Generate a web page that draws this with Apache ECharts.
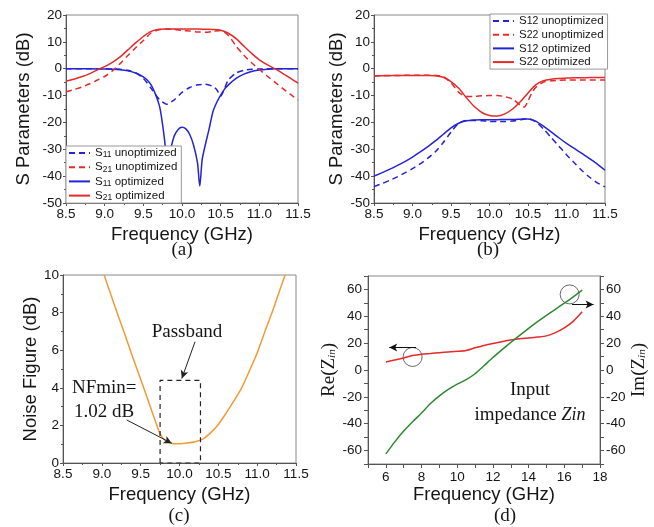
<!DOCTYPE html>
<html>
<head>
<meta charset="utf-8">
<script src="https://cdn.jsdelivr.net/npm/echarts@6/dist/echarts.min.js"></script>
<style>
  html, body { margin: 0; padding: 0; background: #fff; }
  #chart { width: 654px; height: 527px; }
</style>
</head>
<body>
<div id="chart"></div>
<script>
// ---- data ----
var FREQ_AB = [8.5, 8.6, 8.7, 8.8, 8.9, 9.0, 9.1, 9.2, 9.3, 9.4, 9.5, 9.6, 9.7, 9.8, 9.9, 10.0,
  10.1, 10.2, 10.3, 10.4, 10.5, 10.6, 10.7, 10.8, 10.9, 11.0, 11.1, 11.2, 11.3, 11.4, 11.5];

// (a)
var S21_OPT = [-4.6, -3.9, -3.0, -1.9, -0.5, 0.8, 2.4, 4.4, 7.0, 9.6, 12.0, 13.9, 14.7, 14.8, 14.8, 14.8,
  14.8, 14.8, 14.7, 14.6, 14.3, 13.2, 11.2, 8.4, 5.7, 3.3, 1.5, 0.0, -1.7, -3.5, -5.4];
var S21_UNOPT = [-8.6, -7.8, -6.9, -5.7, -4.3, -2.9, -0.8, 1.9, 4.9, 7.8, 10.5, 13.3, 14.5, 14.8, 14.6, 14.3,
  14.0, 13.7, 13.6, 13.9, 14.2, 12.4, 8.4, 5.0, 2.2, -0.3, -2.7, -5.0, -7.3, -9.5, -11.7];
var S11U_FREQ = [8.5, 8.8, 9.0, 9.1, 9.2, 9.3, 9.4, 9.5, 9.6, 9.7, 9.8, 9.9, 10.0, 10.1, 10.2, 10.3, 10.4,
  10.45, 10.5, 10.55, 10.6, 10.7, 10.8, 10.9, 11.0, 11.2, 11.5];
var S11_UNOPT = [0, 0, 0, -0.1, -0.2, -0.6, -1.5, -3.6, -7.3, -11.2, -13.2, -11.6, -8.8, -7.0, -6.0, -5.8, -6.6,
  -7.8, -10.2, -7.3, -4.2, -1.6, -0.6, -0.2, -0.1, 0, 0];
var S11O_FREQ = [8.5, 8.8, 9.0, 9.1, 9.2, 9.3, 9.4, 9.5, 9.55, 9.6, 9.65, 9.7, 9.72, 9.75, 9.78, 9.81, 9.84,
  9.87, 9.9, 9.95, 10.0, 10.05, 10.1, 10.15, 10.2, 10.23, 10.26, 10.3, 10.35, 10.4, 10.45, 10.5, 10.55,
  10.6, 10.7, 10.8, 10.9, 11.0, 11.1, 11.2, 11.5];
var S11_OPT = [0, 0, -0.1, -0.2, -0.4, -0.8, -1.6, -3.0, -4.2, -6.0, -9.0, -13.0, -15.4, -21, -28, -40, -32,
  -28, -25, -22.6, -21.8, -22.4, -24.5, -28.5, -35, -43.7, -34, -28.5, -22.5, -16, -12.5, -9.8, -7.6,
  -6.0, -3.6, -2.0, -1.0, -0.5, -0.2, 0, 0];

// (b)
var S12_OPT = [-40.0, -38.8, -37.5, -36.1, -34.6, -32.9, -31.0, -29.0, -26.8, -24.4, -22.0, -20.3, -19.4, -19.1,
  -19.0, -19.0, -19.0, -18.9, -18.9, -18.8, -18.7, -19.5, -21.4, -23.5, -25.7, -27.8, -29.7, -31.5, -33.5,
  -35.5, -37.8];
var S12_UNOPT = [-43.9, -42.8, -41.6, -40.3, -38.8, -37.2, -35.4, -33.3, -30.8, -27.5, -23.6, -20.3, -19.3, -19.3,
  -19.4, -19.6, -19.7, -19.7, -19.5, -19.0, -18.6, -19.8, -22.4, -25.6, -28.8, -32.0, -35.0, -37.9, -40.4,
  -42.5, -44.0];
var S22_OPT = [-2.7, -2.6, -2.6, -2.5, -2.5, -2.5, -2.5, -2.5, -2.6, -3.2, -4.8, -7.3, -10.8, -14.0, -16.3, -17.4,
  -17.6, -16.8, -15.0, -12.3, -9.0, -6.0, -4.5, -3.9, -3.6, -3.5, -3.4, -3.4, -3.3, -3.3, -3.3];
var S22U_FREQ = [8.5, 8.8, 9.0, 9.2, 9.3, 9.4, 9.5, 9.6, 9.7, 9.8, 9.9, 10.0, 10.1, 10.2, 10.3, 10.4, 10.45,
  10.5, 10.55, 10.6, 10.7, 10.8, 10.9, 11.0, 11.2, 11.5];
var S22_UNOPT = [-2.6, -2.5, -2.4, -2.4, -2.5, -3.0, -5.2, -8.8, -10.3, -10.3, -10.1, -10.0, -10.0, -10.4, -11.3,
  -13.6, -14.3, -12.0, -9.0, -7.0, -5.0, -4.5, -4.3, -4.2, -4.2, -4.2];

// (c)
var NF_FREQ = [9.03, 9.1, 9.2, 9.3, 9.4, 9.5, 9.6, 9.7, 9.75, 9.8, 9.85, 9.9, 9.95, 10.0, 10.1, 10.2, 10.3,
  10.4, 10.5, 10.6, 10.7, 10.8, 10.9, 11.0, 11.1, 11.2, 11.3, 11.36];
var NF = [10.0, 9.15, 7.95, 6.8, 5.6, 4.45, 3.28, 2.1, 1.55, 1.25, 1.11, 1.05, 1.02, 1.02, 1.06, 1.13, 1.27,
  1.6, 2.05, 2.65, 3.3, 4.0, 4.9, 5.85, 7.0, 8.1, 9.3, 10.0];
var BOX_FREQ = [9.75, 9.75, 10.27, 10.27, 9.75];
var BOX_NF = [0, 4.4, 4.4, 0, 0];

// (d)
var Z_FREQ = [6, 6.5, 7, 7.5, 8, 8.5, 9, 9.5, 10, 10.5, 11, 11.5, 12, 12.5, 13, 13.5, 14, 14.5, 15, 15.5,
  16, 16.5, 17];
var RE_Z = [6.0, 7.4, 9.0, 10.8, 11.8, 12.3, 12.9, 13.4, 13.9, 14.6, 16.5, 18.3, 19.8, 21.1, 22.3, 23.2, 23.8,
  24.5, 25.4, 27.8, 31.3, 36.2, 43.3];
var IM_Z = [-62.5, -53.5, -45.5, -38.5, -32, -25, -19.3, -14.5, -10.5, -7.2, -2.8, 3.2, 9.3, 15.0, 20.5, 25.8,
  31.0, 36.0, 40.7, 45.2, 49.8, 54.5, 59.5];
var CIRCLE_PTS = [[7.5, 9.7], [16.3, 56.3]];

var LEGEND_A = ['S11 unoptimized', 'S21 unoptimized', 'S11 optimized', 'S21 optimized'];
var LEGEND_B = ['S12 unoptimized', 'S22 unoptimized', 'S12 optimized', 'S22 optimized'];

// ---- styling ----
var SANS = '"Liberation Sans", Arial, sans-serif';
var SERIF = '"Liberation Serif", "Times New Roman", serif';
var BLUE = '#2323d8';
var RED = '#e52a2a';
var ORANGE = '#f29a38';
var GREEN = '#2f8a2f';
var AXIS_COLOR = '#555';
var TEXT = '#151515';
var DASH = [6, 4];
var TICK_FONT = 13.5;

function pairs(xs, ys) {
  return xs.map(function(x, i) { return [x, ys[i]]; });
}

function baseAxis(gi, min, max, interval, extra) {
  var ax = {
    gridIndex: gi, type: 'value', min: min, max: max, interval: interval,
    nameLocation: 'middle',
    nameTextStyle: { fontFamily: SANS, fontSize: 18.5, color: TEXT },
    axisLine: { show: true, onZero: false, lineStyle: { color: AXIS_COLOR, width: 1 } },
    axisTick: { show: true, length: 3, lineStyle: { color: AXIS_COLOR } },
    minorTick: { show: false },
    axisLabel: { fontFamily: SANS, fontSize: TICK_FONT, color: TEXT, margin: 4, showMinLabel: true, showMaxLabel: true },
    splitLine: { show: false }
  };
  Object.keys(extra || {}).forEach(function(k) { ax[k] = extra[k]; });
  return ax;
}

function freqAxis(gi) {
  return baseAxis(gi, 8.5, 11.5, 0.5, {
    name: 'Frequency (GHz)', nameGap: 22,
    minorTick: { show: true, splitNumber: 2, length: 2, lineStyle: { color: AXIS_COLOR } },
    axisLabel: { fontFamily: SANS, fontSize: TICK_FONT, color: TEXT, margin: 4, showMinLabel: true, showMaxLabel: true,
      formatter: function(v) { return v.toFixed(1); } }
  });
}

function sAxis(gi, gap) {
  return baseAxis(gi, -50, 20, 10, {
    name: 'S Parameters (dB)', nameGap: gap,
    minorTick: { show: true, splitNumber: 2, length: 2, lineStyle: { color: AXIS_COLOR } }
  });
}

function zAxis(gi, pos, nameRich, gap) {
  return baseAxis(gi, -70, 70, 10, {
    position: pos, name: nameRich, nameGap: gap,
    nameTextStyle: {
      fontFamily: SERIF, fontSize: 19, color: TEXT,
      rich: {
        n: { fontFamily: SERIF, fontSize: 19, color: TEXT },
        s: { fontFamily: SERIF, fontSize: 11, fontStyle: 'italic', color: TEXT, padding: [6, 0, 0, 0] }
      }
    },
    axisTick: { show: true, length: 4, lineStyle: { color: AXIS_COLOR } },
    axisLabel: { fontFamily: SANS, fontSize: TICK_FONT, color: TEXT, margin: 6,
      formatter: function(v) { return (v % 20 === 0) ? String(v) : ''; } }
  });
}

function lineSeries(name, data, color, dashed, xi, yi) {
  return {
    name: name, type: 'line', data: data, xAxisIndex: xi, yAxisIndex: yi,
    showSymbol: false, symbol: 'none', smooth: 0.25, animation: false,
    lineStyle: { color: color, width: 1.5, type: dashed ? DASH : 'solid' },
    itemStyle: { color: color }
  };
}

function arrowLine(from, to) {
  return [{ coord: from }, { coord: to }];
}

function legendFmt(name) {
  var m = name.match(/^S(\d\d)(.*)$/);
  return '{n|S}{s|' + m[1] + '}{n|' + m[2] + '}';
}

function legendCfg(names, left, top, subSize, subPad) {
  return {
    data: names, orient: 'vertical', left: left, top: top,
    itemWidth: 21, itemHeight: 12, itemGap: 1.7,
    padding: [1, 4, 1, 2],
    backgroundColor: '#fff', borderColor: '#999', borderWidth: 1, borderRadius: 0,
    selectedMode: false,
    itemStyle: { opacity: 0, borderWidth: 0 },
    formatter: legendFmt,
    textStyle: {
      fontFamily: SANS, fontSize: 11.5, color: TEXT,
      rich: {
        n: { fontFamily: SANS, fontSize: 11.5, color: TEXT },
        s: { fontFamily: SANS, fontSize: subSize, color: TEXT, padding: subPad }
      }
    }
  };
}

var nfSeries = lineSeries('NF', pairs(NF_FREQ, NF), ORANGE, false, 2, 2);
nfSeries.markLine = {
  silent: true, symbol: ['none', 'arrow'], symbolSize: [6, 8], animation: false,
  label: { show: false },
  lineStyle: { color: '#222', width: 1, type: 'solid' },
  data: [arrowLine([10.2, 6.45], [10.03, 4.5]), arrowLine([9.32, 2.29], [9.9, 1.05])]
};

var boxSeries = lineSeries('Passband', pairs(BOX_FREQ, BOX_NF), '#222', true, 2, 2);
boxSeries.smooth = false;
boxSeries.lineStyle = { color: '#222', width: 1.2, type: [5, 4] };

var reSeries = lineSeries('Re', pairs(Z_FREQ, RE_Z), RED, false, 3, 3);
reSeries.markLine = {
  silent: true, symbol: ['none', 'arrow'], symbolSize: [6, 8], animation: false,
  label: { show: false }, lineStyle: { color: '#111', width: 1, type: 'solid' },
  data: [arrowLine([7.69, 16.7], [6.19, 16.7])]
};
var imSeries = lineSeries('Im', pairs(Z_FREQ, IM_Z), GREEN, false, 3, 4);
imSeries.markLine = {
  silent: true, symbol: ['none', 'arrow'], symbolSize: [6, 8], animation: false,
  label: { show: false }, lineStyle: { color: '#111', width: 1, type: 'solid' },
  data: [arrowLine([16.43, 48.8], [17.64, 48.8])]
};

var chart = echarts.init(document.getElementById('chart'), null, { renderer: 'canvas' });

var gridStyle = { show: true, borderColor: '#888', borderWidth: 1, backgroundColor: 'transparent' };
function grid(l, t, w, h) {
  var g = { left: l, top: t, width: w, height: h, containLabel: false };
  Object.keys(gridStyle).forEach(function(k) { g[k] = gridStyle[k]; });
  return g;
}

function caption(text, x, y, align) {
  return { type: 'text', style: { text: text, x: x, y: y, align: align || 'center', verticalAlign: 'middle',
    font: '19px ' + SERIF, fill: TEXT } };
}

chart.setOption({
  backgroundColor: '#fff',
  animation: false,
  grid: [grid(66, 15, 232, 188), grid(374, 15, 231, 188), grid(63, 275, 233, 188), grid(368, 276, 232, 188)],
  xAxis: [
    freqAxis(0), freqAxis(1), freqAxis(2),
    baseAxis(3, 5, 18, 1, {
      name: 'Frequency (GHz)', nameGap: 21,
      axisTick: { show: true, length: 4, lineStyle: { color: AXIS_COLOR } },
      axisLabel: { fontFamily: SANS, fontSize: TICK_FONT, color: TEXT, margin: 6,
        formatter: function(v) { return (v % 2 === 0) ? String(v) : ''; } }
    })
  ],
  yAxis: [
    sAxis(0, 33), sAxis(1, 28),
    baseAxis(2, 0, 10, 2, {
      name: 'Noise Figure (dB)', nameGap: 22,
      minorTick: { show: true, splitNumber: 2, length: 2, lineStyle: { color: AXIS_COLOR } }
    }),
    zAxis(3, 'left', '{n|Re(Z}{s|in}{n|)}', 26),
    zAxis(3, 'right', '{n|Im(Z}{s|in}{n|)}', 27)
  ],
  legend: [
    legendCfg(LEGEND_A, 66, 146, 8.5, [4, 0, 0, 0]),
    legendCfg(LEGEND_B, 490, 14, 10.5, [1, 0, 0, 0])
  ],
  series: [
    lineSeries('S11 unoptimized', pairs(S11U_FREQ, S11_UNOPT), BLUE, true, 0, 0),
    lineSeries('S11 optimized', pairs(S11O_FREQ, S11_OPT), BLUE, false, 0, 0),
    lineSeries('S21 unoptimized', pairs(FREQ_AB, S21_UNOPT), RED, true, 0, 0),
    lineSeries('S21 optimized', pairs(FREQ_AB, S21_OPT), RED, false, 0, 0),
    lineSeries('S12 unoptimized', pairs(FREQ_AB, S12_UNOPT), BLUE, true, 1, 1),
    lineSeries('S12 optimized', pairs(FREQ_AB, S12_OPT), BLUE, false, 1, 1),
    lineSeries('S22 unoptimized', pairs(S22U_FREQ, S22_UNOPT), RED, true, 1, 1),
    lineSeries('S22 optimized', pairs(FREQ_AB, S22_OPT), RED, false, 1, 1),
    nfSeries,
    boxSeries,
    reSeries,
    imSeries,
    {
      name: 'circles', type: 'scatter', xAxisIndex: 3, yAxisIndex: 3, data: CIRCLE_PTS,
      symbol: 'circle', symbolSize: 19, silent: true, animation: false,
      itemStyle: { color: 'rgba(0,0,0,0)', borderColor: '#444', borderWidth: 1 }
    }
  ],
  graphic: [
    caption('(a)', 182, 250), caption('(b)', 488, 250), caption('(c)', 179, 516), caption('(d)', 505, 516),
    caption('Passband', 187, 332),
    caption('NFmin=', 72, 388, 'left'),
    caption('1.02 dB', 74, 412, 'left'),
    caption('Input', 530, 390),
    { type: 'text', style: {
      text: '{n|impedance }{z|Zin}', x: 530, y: 415, align: 'center', verticalAlign: 'middle',
      font: '19px ' + SERIF, fill: TEXT,
      rich: {
        n: { fontFamily: SERIF, fontSize: 19, fill: TEXT },
        z: { fontFamily: SERIF, fontSize: 18, fontStyle: 'italic', fill: TEXT }
      }
    } }
  ]
});
</script>
</body>
</html>
